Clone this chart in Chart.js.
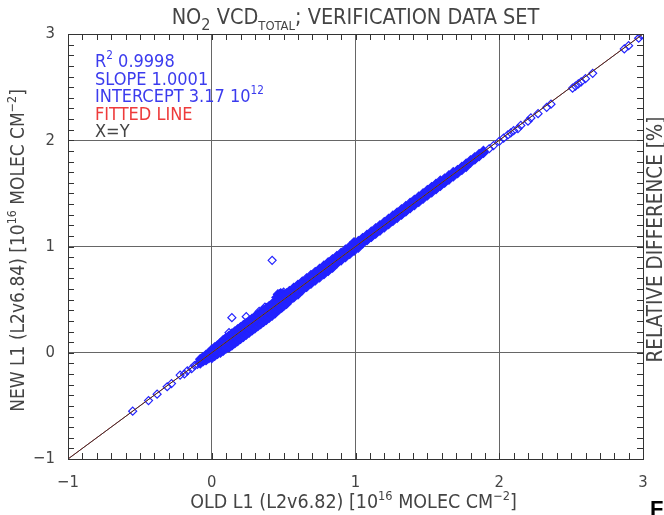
<!DOCTYPE html>
<html>
<head>
<meta charset="utf-8">
<script src="https://cdn.jsdelivr.net/npm/chart.js@4.4.1/dist/chart.umd.min.js"></script>
<style>
  body { margin: 0; background: #fff; }
  #wrap { width: 664px; height: 515px; }
</style>
</head>
<body>
<div id="wrap"><canvas id="no2-chart" width="664" height="515"></canvas></div>
<script>
// Axis tick labels
const tickValues = [-1, 0, 1, 2, 3];

// Isolated points on the negative end of the line
const tailOld = [-0.55, -0.44, -0.38, -0.31, -0.28, -0.22, -0.19, -0.17, -0.14, -0.12, -0.10];
const tailNew = [-0.55, -0.45, -0.39, -0.32, -0.29, -0.21, -0.20, -0.17, -0.15, -0.12, -0.11];

// Dense band: for each old value, lower / middle / upper new values
const bandOld = [-0.08, -0.06, -0.04, -0.02, 0.00, 0.02, 0.04, 0.06, 0.08, 0.10,
  0.12, 0.14, 0.16, 0.18, 0.20, 0.22, 0.24, 0.26, 0.28, 0.30,
  0.32, 0.34, 0.36, 0.38, 0.40, 0.42, 0.44, 0.45, 0.46, 0.47,
  0.48, 0.49, 0.50, 0.52, 0.54, 0.57, 0.60, 0.63, 0.66, 0.69,
  0.72, 0.75, 0.78, 0.81, 0.84, 0.87, 0.90, 0.93, 0.96, 0.99,
  1.02, 1.05, 1.08, 1.11, 1.14, 1.17, 1.20, 1.23, 1.26, 1.29,
  1.32, 1.35, 1.38, 1.41, 1.44, 1.47, 1.50, 1.53, 1.56, 1.59,
  1.62, 1.65, 1.68, 1.71, 1.74, 1.77, 1.80, 1.83, 1.86, 1.89];
const bandLow = [-0.10, -0.08, -0.07, -0.05, -0.05, -0.03, -0.01, 0.00, 0.02, 0.04,
  0.05, 0.07, 0.09, 0.11, 0.13, 0.15, 0.17, 0.19, 0.21, 0.23,
  0.25, 0.27, 0.29, 0.31, 0.33, 0.35, 0.37, 0.39, 0.40, 0.41,
  0.42, 0.43, 0.44, 0.46, 0.49, 0.52, 0.55, 0.59, 0.62, 0.65,
  0.68, 0.71, 0.74, 0.77, 0.80, 0.84, 0.87, 0.90, 0.93, 0.96,
  0.99, 1.03, 1.06, 1.09, 1.12, 1.15, 1.18, 1.21, 1.24, 1.27,
  1.30, 1.33, 1.36, 1.39, 1.42, 1.45, 1.48, 1.51, 1.54, 1.57,
  1.60, 1.63, 1.66, 1.69, 1.72, 1.75, 1.79, 1.82, 1.85, 1.88];
const bandMid = [-0.08, -0.06, -0.04, -0.02, -0.01, 0.01, 0.03, 0.05, 0.07, 0.09,
  0.11, 0.13, 0.15, 0.17, 0.18, 0.20, 0.22, 0.24, 0.26, 0.28,
  0.30, 0.32, 0.34, 0.36, 0.38, 0.40, 0.42, 0.46, 0.48, 0.49,
  0.50, 0.51, 0.50, 0.51, 0.53, 0.56, 0.59, 0.62, 0.65, 0.68,
  0.71, 0.74, 0.77, 0.80, 0.83, 0.86, 0.89, 0.92, 0.95, 0.98,
  1.01, 1.04, 1.07, 1.10, 1.13, 1.16, 1.19, 1.22, 1.25, 1.28,
  1.31, 1.34, 1.38, 1.41, 1.44, 1.47, 1.50, 1.53, 1.56, 1.59,
  1.62, 1.65, 1.68, 1.71, 1.74, 1.77, 1.80, 1.83, 1.86, 1.89];
const bandHigh = [-0.06, -0.04, -0.02, 0.00, 0.03, 0.05, 0.07, 0.09, 0.12, 0.14,
  0.16, 0.18, 0.20, 0.22, 0.24, 0.26, 0.28, 0.30, 0.32, 0.34,
  0.36, 0.38, 0.40, 0.42, 0.44, 0.46, 0.48, 0.52, 0.55, 0.55,
  0.56, 0.55, 0.55, 0.56, 0.58, 0.61, 0.64, 0.67, 0.70, 0.73,
  0.76, 0.79, 0.82, 0.85, 0.88, 0.91, 0.94, 0.97, 1.00, 1.04,
  1.05, 1.08, 1.11, 1.14, 1.17, 1.20, 1.23, 1.26, 1.29, 1.32,
  1.35, 1.38, 1.41, 1.44, 1.47, 1.50, 1.53, 1.56, 1.59, 1.62,
  1.64, 1.67, 1.70, 1.72, 1.75, 1.78, 1.81, 1.84, 1.87, 1.90];

// Isolated points on the upper end
const upperOld = [1.93, 1.96, 2.00, 2.03, 2.06, 2.08, 2.10, 2.13, 2.15, 2.20, 2.22, 2.27,
  2.33, 2.36, 2.51, 2.53, 2.55, 2.57, 2.60, 2.65, 2.87, 2.90, 2.97, 2.99];
const upperNew = [1.92, 1.95, 1.99, 2.02, 2.05, 2.07, 2.09, 2.11, 2.14, 2.18, 2.21, 2.25,
  2.31, 2.34, 2.49, 2.51, 2.53, 2.55, 2.58, 2.63, 2.86, 2.89, 2.96, 2.99];

// Outliers above the band
const outOld = [0.42, 0.14, 0.24, 0.33, 0.37, 0.50, 0.12];
const outNew = [0.87, 0.33, 0.34, 0.39, 0.43, 0.57, 0.19];

// Fit statistics and the two reference lines
const fitStats = { r2: '0.9998', slope: '1.0001', intercept: '3.17' };
const lineEnds = [-1, 3];
const fittedEnds = [-0.9998, 3.0006];

const FONT = '"Liberation Sans Narrow", "DejaVu Sans Condensed", "Liberation Sans", sans-serif';
const TEXT = '#444';
const BLUE = '#2222ff';

// Build the point lists: crowded band, and the sparse points around it
const bandPoints = [];
bandOld.forEach((v, i) => {
  bandPoints.push({ x: v, y: bandLow[i] });
  bandPoints.push({ x: v, y: bandMid[i] });
  bandPoints.push({ x: v, y: bandHigh[i] });
});
const sparsePoints = [];
tailOld.forEach((v, i) => sparsePoints.push({ x: v, y: tailNew[i] }));
upperOld.forEach((v, i) => sparsePoints.push({ x: v, y: upperNew[i] }));
outOld.forEach((v, i) => sparsePoints.push({ x: v, y: outNew[i] }));

// Draw text made of pieces: [text, mode] with mode 0 normal, 1 superscript, -1 subscript
function richWidth(ctx, parts, size) {
  let w = 0;
  parts.forEach(p => {
    const s = p[1] === 0 ? size : size * (p[2] || 0.65);
    ctx.font = s + 'px ' + FONT;
    w += ctx.measureText(p[0]).width;
  });
  return w;
}
function drawRich(ctx, parts, x, y, size, color, align) {
  const w = richWidth(ctx, parts, size);
  let cx = align === 'center' ? x - w / 2 : x;
  ctx.fillStyle = color;
  ctx.textBaseline = 'alphabetic';
  ctx.textAlign = 'left';
  parts.forEach(p => {
    let s = size, dy = 0;
    if (p[1] === 1) { s = size * (p[2] || 0.65); dy = -size * 0.42; }
    if (p[1] === -1) { s = size * (p[2] || 0.65); dy = size * 0.28; }
    ctx.font = s + 'px ' + FONT;
    ctx.fillText(p[0], cx, y + dy);
    cx += ctx.measureText(p[0]).width;
  });
}

const decorations = {
  id: 'decorations',
  afterDraw(chart) {
    const ctx = chart.ctx;
    const a = chart.chartArea;
    const xs = chart.scales.x, ys = chart.scales.y;
    ctx.save();

    // minor ticks on all four sides
    ctx.strokeStyle = '#333';
    ctx.lineWidth = 1;
    ctx.beginPath();
    for (let k = -10; k <= 30; k++) {
      const v = k / 10;
      const px = Math.round(xs.getPixelForValue(v)) + 0.5;
      const py = Math.round(ys.getPixelForValue(v)) + 0.5;
      ctx.moveTo(px, a.bottom); ctx.lineTo(px, a.bottom - 6);
      ctx.moveTo(px, a.top); ctx.lineTo(px, a.top + 6);
      ctx.moveTo(a.left, py); ctx.lineTo(a.left + 6, py);
      ctx.moveTo(a.right, py); ctx.lineTo(a.right - 6, py);
    }
    ctx.stroke();
    ctx.strokeRect(Math.round(a.left) + 0.5, Math.round(a.top) + 0.5,
      Math.round(a.right - a.left), Math.round(a.bottom - a.top));

    const midX = (a.left + a.right) / 2;
    const midY = (a.top + a.bottom) / 2;

    // title
    drawRich(ctx, [['NO', 0], ['2', -1, 0.75], [' VCD', 0], ['TOTAL', -1, 0.6],
      ['; VERIFICATION DATA SET', 0]], midX, 24, 21.5, TEXT, 'center');

    // x axis title
    drawRich(ctx, [['OLD L1 (L2v6.82) [10', 0], ['16', 1], [' MOLEC CM', 0], ['\u22122', 1],
      [']', 0]], midX - 2, 508, 19.5, TEXT, 'center');

    // left y axis title
    ctx.save();
    ctx.translate(24, midY + 4);
    ctx.rotate(-Math.PI / 2);
    drawRich(ctx, [['NEW L1 (L2v6.84) [10', 0], ['16', 1], [' MOLEC CM', 0], ['\u22122', 1],
      [']', 0]], 0, 0, 19, TEXT, 'center');
    ctx.restore();

    // right axis title
    ctx.save();
    ctx.translate(662, midY - 7);
    ctx.rotate(-Math.PI / 2);
    drawRich(ctx, [['RELATIVE DIFFERENCE [%]', 0]], 0, 0, 20.5, TEXT, 'center');
    ctx.restore();

    // statistics block
    const lx = a.left + 27;
    drawRich(ctx, [['R', 0], ['2', 1], [' ' + fitStats.r2, 0]], lx, 67, 18, '#3b3bee', 'left');
    drawRich(ctx, [['SLOPE ' + fitStats.slope, 0]], lx, 84.5, 18, '#3b3bee', 'left');
    drawRich(ctx, [['INTERCEPT ' + fitStats.intercept + ' 10', 0], ['12', 1]], lx, 102, 18, '#3b3bee', 'left');
    drawRich(ctx, [['FITTED LINE', 0]], lx, 119.5, 18, '#ee3b3b', 'left');
    drawRich(ctx, [['X=Y', 0]], lx, 137, 18, TEXT, 'left');

    // fragment of the neighbouring panel label
    ctx.font = 'bold 22px "Liberation Sans", sans-serif';
    ctx.fillStyle = '#000';
    ctx.textAlign = 'left';
    ctx.fillText('F', 650, 516);
    ctx.restore();
  }
};

const ctx = document.getElementById('no2-chart').getContext('2d');
const minus = v => (v < 0 ? '\u2212' + Math.abs(v) : String(v));
const gridColor = c => (c.tick && c.tick.value > -1 && c.tick.value < 3 ? '#666' : 'rgba(0,0,0,0)');

new Chart(ctx, {
  type: 'scatter',
  data: {
    datasets: [
      {
        label: 'X=Y',
        type: 'line',
        data: lineEnds.map(v => ({ x: v, y: v })),
        borderColor: '#333',
        borderWidth: 1,
        pointRadius: 0,
        order: 0
      },
      {
        label: 'FITTED LINE',
        type: 'line',
        data: lineEnds.map((v, i) => ({ x: v, y: fittedEnds[i] })),
        borderColor: '#ee3b3b',
        borderWidth: 1,
        pointRadius: 0,
        order: 1
      },
      {
        label: 'NO2 VCD (crowded)',
        data: bandPoints,
        pointStyle: 'rectRot',
        pointRadius: 4.5,
        borderColor: BLUE,
        backgroundColor: BLUE,
        borderWidth: 1.2,
        order: 2
      },
      {
        label: 'NO2 VCD',
        data: sparsePoints,
        pointStyle: 'rectRot',
        pointRadius: 4,
        borderColor: BLUE,
        backgroundColor: 'rgba(0,0,0,0)',
        borderWidth: 1.2,
        order: 3
      }
    ]
  },
  options: {
    responsive: false,
    animation: false,
    layout: { padding: { top: 34, right: 21, left: 0, bottom: 0 } },
    plugins: { legend: { display: false }, tooltip: { enabled: false } },
    scales: {
      x: {
        type: 'linear',
        min: -1, max: 3,
        afterFit: s => { s.height = 56; },
        afterBuildTicks: s => { s.ticks = tickValues.map(v => ({ value: v })); },
        ticks: { color: TEXT, padding: 14, maxRotation: 0, font: { family: FONT, size: 16.5 }, callback: minus },
        grid: { drawTicks: false, color: gridColor },
        border: { display: false }
      },
      y: {
        type: 'linear',
        min: -1, max: 3,
        afterFit: s => { s.width = 68; },
        afterBuildTicks: s => { s.ticks = tickValues.map(v => ({ value: v })); },
        ticks: { color: TEXT, padding: 13, font: { family: FONT, size: 16.5 }, callback: minus },
        grid: { drawTicks: false, color: gridColor },
        border: { display: false }
      }
    }
  },
  plugins: [decorations]
});
</script>
</body>
</html>
